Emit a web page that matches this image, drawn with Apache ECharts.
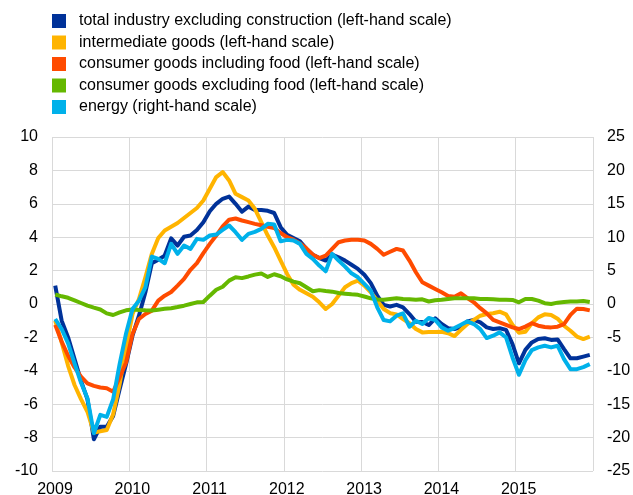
<!DOCTYPE html>
<html>
<head>
<meta charset="utf-8">
<script src="https://cdn.jsdelivr.net/npm/echarts@6/dist/echarts.min.js"></script>
<style>
html,body{margin:0;padding:0;background:#fff;}
#chart{width:633px;height:495px;}
</style>
</head>
<body>
<div id="chart"></div>
<script>
// Monthly observations, Jan 2009 .. Dec 2015 (84 months)
const yearLabels = ['2009','2010','2011','2012','2013','2014','2015'];

const seriesNames = [
  'total industry excluding construction (left-hand scale)',
  'intermediate goods (left-hand scale)',
  'consumer goods including food (left-hand scale)',
  'consumer goods excluding food (left-hand scale)',
  'energy (right-hand scale)'
];

const totalIndustry = [
  1.1, -1.0, -2.0, -3.3, -4.6, -5.7, -8.1, -7.35, -7.35, -6.7, -5.1, -3.6,
  -1.9, -0.7, 0.7, 2.44, 2.65, 2.9, 3.93, 3.5, 4.03, 4.1, 4.43, 4.9,
  5.55, 6.0, 6.3, 6.43, 6.0, 5.53, 5.83, 5.63, 5.63, 5.58, 5.45, 4.6,
  4.15, 3.95, 3.75, 3.3, 2.95, 2.75, 2.6, 2.95, 2.8, 2.6, 2.35, 2.1,
  1.75, 1.25, 0.5, -0.05, -0.15, -0.05, -0.2, -0.6, -1.06, -1.08, -1.26, -0.86,
  -1.2, -1.45, -1.5, -1.38, -1.05, -0.95, -1.1, -1.4, -1.5, -1.45, -1.55, -2.4,
  -3.55, -2.75, -2.3, -2.1, -2.05, -2.15, -2.12, -2.7, -3.25, -3.25, -3.15, -3.05
];
const intermediateGoods = [
  -1.0, -2.3, -3.7, -4.85, -5.7, -6.45, -7.7, -7.62, -7.54, -6.6, -4.8, -2.6,
  -0.6, 0.3, 1.6, 3.0, 3.95, 4.4, 4.62, 4.85, 5.15, 5.45, 5.75, 6.2,
  6.9, 7.6, 7.9, 7.4, 6.6, 6.4, 6.2, 5.7, 4.9, 4.1, 3.4, 2.6,
  1.8, 1.15, 0.85, 0.64, 0.44, 0.1, -0.3, 0.0, 0.5, 1.0, 1.25, 1.4,
  1.1, 0.7, 0.2, -0.3, -0.55, -0.62, -0.9, -1.15, -1.5, -1.7, -1.68, -1.68,
  -1.66, -1.75, -1.92, -1.55, -1.2, -0.95, -0.7, -0.6, -0.55, -0.46, -0.62, -1.25,
  -1.72, -1.66, -1.15, -0.8, -0.62, -0.66, -0.88, -1.3, -1.6, -1.95, -2.1, -1.96
];
const consumerInclFood = [
  -1.25, -2.25, -3.1, -3.8, -4.35, -4.75, -4.9, -5.0, -5.05, -5.25, -4.4, -3.5,
  -1.8, -0.9, -0.6, -0.4, 0.2, 0.5, 0.72, 1.1, 1.5, 2.05, 2.45, 3.05,
  3.6, 4.1, 4.65, 5.05, 5.12, 5.0, 4.9, 4.8, 4.72, 4.63, 4.55, 4.25,
  4.0, 3.85, 3.63, 3.33, 2.95, 2.75, 2.9, 3.3, 3.7, 3.8, 3.85, 3.85,
  3.8, 3.6, 3.3, 2.95, 3.13, 3.3, 3.2, 2.6, 1.9, 1.3, 1.1, 0.9,
  0.7, 0.48, 0.44, 0.64, 0.35, 0.1, -0.25, -0.56, -0.95, -1.1, -1.25, -1.4,
  -1.5, -1.35, -1.15, -1.3, -1.38, -1.4, -1.36, -1.2, -0.65, -0.28, -0.3, -0.38
];
const consumerExclFood = [
  0.57, 0.46, 0.37, 0.22, 0.06, -0.1, -0.22, -0.33, -0.56, -0.66, -0.5, -0.38,
  -0.33, -0.36, -0.38, -0.39, -0.34, -0.29, -0.25, -0.18, -0.1, 0.0, 0.1, 0.12,
  0.5, 0.85, 1.03, 1.4, 1.6, 1.55, 1.65, 1.76, 1.83, 1.62, 1.78, 1.66,
  1.47, 1.34, 1.24, 1.0, 0.76, 0.83, 0.78, 0.74, 0.66, 0.62, 0.58, 0.55,
  0.45, 0.34, 0.27, 0.25, 0.3, 0.35, 0.3, 0.28, 0.25, 0.28, 0.15, 0.22,
  0.25, 0.3, 0.35, 0.35, 0.35, 0.35, 0.3, 0.3, 0.28, 0.25, 0.25, 0.24,
  0.1, 0.3, 0.3, 0.2, 0.05, 0.0, 0.08, 0.12, 0.15, 0.15, 0.18, 0.12
];
const energy = [
  -2.25, -3.75, -5.9, -8.9, -11.75, -14.1, -19.35, -16.6, -16.9, -14.25, -9.0, -4.4,
  -0.75, 0.5, 2.5, 7.1, 6.75, 6.1, 9.0, 7.5, 8.75, 8.25, 9.75, 9.6,
  10.25, 10.4, 11.1, 11.75, 10.75, 9.6, 10.5, 10.8, 11.25, 12.0, 11.9, 9.4,
  9.6, 9.5, 9.0, 7.5, 6.75, 5.75, 4.9, 7.5, 6.5, 5.6, 4.6, 4.0,
  3.0, 2.0, -0.5, -2.4, -2.6, -1.75, -1.4, -3.4, -2.5, -3.0, -2.1, -2.4,
  -3.5, -4.0, -3.6, -3.1, -2.6, -3.0, -3.75, -5.1, -4.75, -4.25, -5.0, -8.0,
  -10.6, -8.4, -6.9, -6.5, -6.25, -6.5, -6.25, -8.25, -9.75, -9.75, -9.45, -9.0
];

const colors = ['#003299', '#FFB400', '#FF4B00', '#65B800', '#00B1EA'];
const allData = [totalIndustry, intermediateGoods, consumerInclFood, consumerExclFood, energy];
const axisIndex = [0, 0, 0, 0, 1];

// each monthly value placed at mid-month on a month-index axis
function toPoints(arr) { return arr.map((v, i) => [i + 0.5, v]); }

const FONT = 'Liberation Sans, Arial, sans-serif';
const chart = echarts.init(document.getElementById('chart'), null, {renderer: 'canvas'});

chart.setOption({
  animation: false,
  color: colors,
  legend: {
    orient: 'vertical',
    left: 52,
    top: 13,
    padding: 0,
    itemWidth: 14,
    itemHeight: 14,
    itemGap: 5.5,
    icon: 'rect',
    textStyle: {fontFamily: FONT, fontSize: 16, color: '#000', padding: [0, 0, 0, 8], lineHeight: 14},
    data: seriesNames
  },
  grid: {left: 52, right: 40, top: 137, bottom: 24, containLabel: false, outerBoundsMode: 'none'},
  xAxis: {
    type: 'value',
    min: 0,
    max: 84,
    interval: 12,
    axisLine: {show: false},
    axisTick: {show: false},
    splitLine: {show: true, lineStyle: {color: '#d9d9d9', width: 1}},
    axisLabel: {
      fontFamily: FONT, fontSize: 16, color: '#000', margin: 11,
      padding: [0, 0, 0, 6],
      formatter: v => { const k = Math.round(v / 12); return k < yearLabels.length ? yearLabels[k] : ''; }
    }
  },
  yAxis: [
    {
      type: 'value', min: -10, max: 10, interval: 2, position: 'left',
      axisLine: {show: false}, axisTick: {show: false},
      splitLine: {show: true, lineStyle: {color: '#d9d9d9', width: 1}},
      axisLabel: {fontFamily: FONT, fontSize: 16, color: '#000', margin: 14}
    },
    {
      type: 'value', min: -25, max: 25, interval: 5, position: 'right',
      axisLine: {show: false}, axisTick: {show: false},
      splitLine: {show: false},
      axisLabel: {fontFamily: FONT, fontSize: 16, color: '#000', margin: 14}
    }
  ],
  series: seriesNames.map((name, k) => ({
    name: name,
    type: 'line',
    yAxisIndex: axisIndex[k],
    data: toPoints(allData[k]),
    showSymbol: false,
    symbol: 'none',
    lineStyle: {width: 4, color: colors[k], cap: 'butt', join: 'round'},
    itemStyle: {color: colors[k]},
    z: 2 + k
  }))
});
</script>
</body>
</html>
